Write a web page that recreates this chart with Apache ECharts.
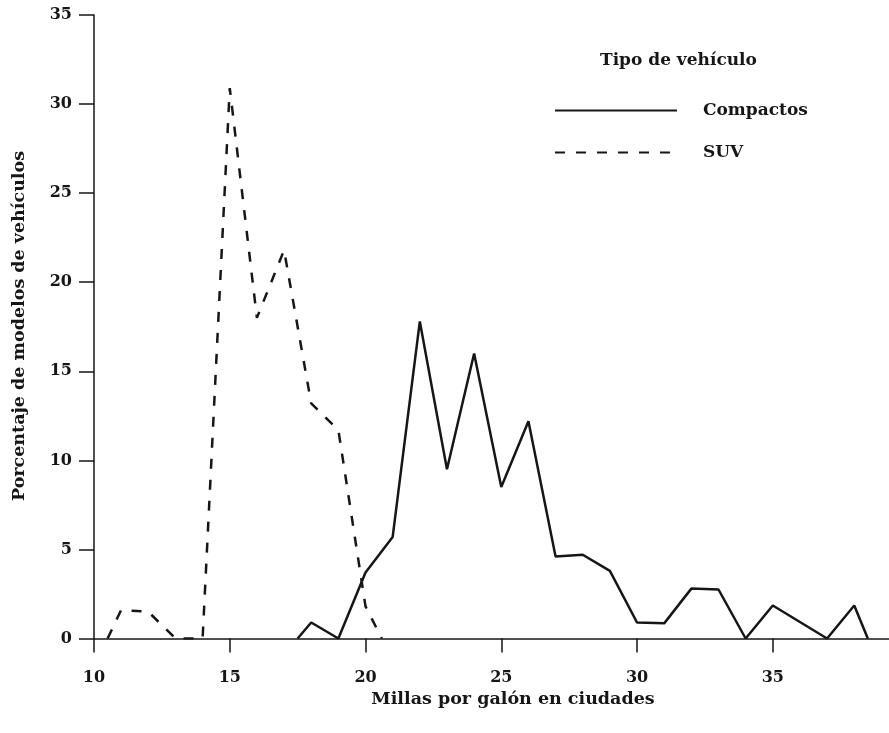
<!DOCTYPE html>
<html>
<head>
<meta charset="utf-8">
<script src="https://cdn.jsdelivr.net/npm/echarts@6/dist/echarts.min.js"></script>
<style>
  html, body { margin: 0; padding: 0; background: #fff; }
  #chart { width: 889px; height: 733px; }
</style>
</head>
<body>
<div id="chart"></div>
<script>
var chart = echarts.init(document.getElementById('chart'));

// Compactos
var compactMpg = [17.5, 18, 19, 20, 21, 22, 23, 24, 25, 26, 27, 28, 29, 30, 31, 32, 33, 34, 35, 37, 38, 38.5];
var compactPct = [0, 0.9, 0, 3.7, 5.7, 17.8, 9.5, 16, 8.5, 12.2, 4.6, 4.7, 3.8, 0.9, 0.85, 2.8, 2.75, 0, 1.85, 0, 1.85, 0];

// SUV
var suvMpg = [10.5, 11, 12, 13, 14, 15, 16, 17, 18, 19, 20, 20.6];
var suvPct = [0, 1.6, 1.5, 0, 0, 30.9, 18, 21.8, 13.2, 11.7, 1.8, 0];

var xTicks = [10, 15, 20, 25, 30, 35];
var seriesNames = ['Compactos', 'SUV'];

function pairs(xs, ys) {
    var out = [];
    for (var i = 0; i < xs.length; i++) out.push([xs[i], ys[i]]);
    return out;
}

var ink = '#161616';
var font = 'DejaVu Serif';

option = {
    backgroundColor: '#ffffff',
    animation: false,
    title: {
        text: 'Tipo de vehículo',
        left: 600,
        top: 52,
        padding: 0,
        textStyle: {
            color: ink,
            fontFamily: font,
            fontWeight: 'bold',
            fontSize: 17
        }
    },
    legend: {
        data: seriesNames,
        orient: 'vertical',
        left: 554,
        top: 102,
        padding: 0,
        itemWidth: 122,
        itemHeight: 20,
        itemGap: 25,
        itemStyle: { opacity: 0 },
        textStyle: {
            color: ink,
            fontFamily: font,
            fontWeight: 'bold',
            fontSize: 17,
            padding: [0, 0, 0, 21]
        }
    },
    grid: {
        left: 94,
        right: 0,
        top: 15,
        bottom: 94.5
    },
    xAxis: {
        type: 'value',
        min: 10,
        max: 39.28,
        interval: 5,
        name: 'Millas por galón en ciudades',
        nameLocation: 'middle',
        nameGap: 51,
        nameTextStyle: {
            color: ink,
            fontFamily: font,
            fontWeight: 'bold',
            fontSize: 17.5,
            padding: [0, 0, 0, 43]
        },
        axisLine: {
            show: true,
            lineStyle: { color: ink, width: 1.5 }
        },
        axisTick: {
            show: true,
            length: 14,
            customValues: xTicks,
            lineStyle: { color: ink, width: 1.5 }
        },
        axisLabel: {
            margin: 31,
            customValues: xTicks,
            color: ink,
            fontFamily: font,
            fontWeight: 'bold',
            fontSize: 16
        },
        splitLine: { show: false }
    },
    yAxis: {
        type: 'value',
        min: 0,
        max: 35,
        interval: 5,
        axisLine: {
            show: true,
            lineStyle: { color: ink, width: 1.5 }
        },
        axisTick: {
            show: true,
            length: 15,
            lineStyle: { color: ink, width: 1.5 }
        },
        axisLabel: {
            margin: 22,
            color: ink,
            fontFamily: font,
            fontWeight: 'bold',
            fontSize: 16
        },
        splitLine: { show: false }
    },
    graphic: [
        {
            type: 'text',
            x: 19,
            y: 326,
            rotation: Math.PI / 2,
            style: {
                text: 'Porcentaje de modelos de vehículos',
                x: 0,
                y: 0,
                align: 'center',
                verticalAlign: 'middle',
                fill: ink,
                font: 'bold 17.5px "DejaVu Serif"'
            }
        }
    ],
    series: [
        {
            name: seriesNames[0],
            type: 'line',
            symbol: 'none',
            data: pairs(compactMpg, compactPct),
            itemStyle: { color: ink },
            lineStyle: { color: ink, width: 2.5, type: 'solid' }
        },
        {
            name: seriesNames[1],
            type: 'line',
            symbol: 'none',
            data: pairs(suvMpg, suvPct),
            itemStyle: { color: ink },
            lineStyle: { color: ink, width: 2.5, type: [10, 11] }
        }
    ]
};

chart.setOption(option);
</script>
</body>
</html>
